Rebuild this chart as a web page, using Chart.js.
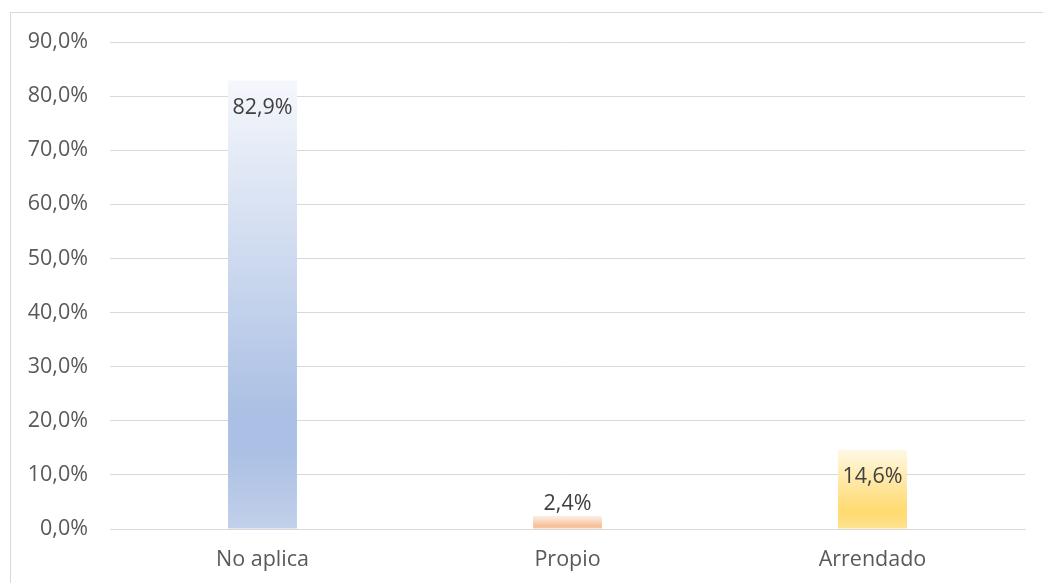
<!DOCTYPE html>
<html>
<head>
<meta charset="utf-8">
<script src="https://cdn.jsdelivr.net/npm/chart.js@4.4.1/dist/chart.umd.min.js"></script>
<style>
  html, body { margin: 0; padding: 0; background: #fff; }
  #wrap { width: 1043px; height: 583px; }
</style>
</head>
<body>
<div id="wrap"><canvas id="grafico" width="1043" height="583"></canvas></div>
<script>
const categorias = ['No aplica', 'Propio', 'Arrendado'];
const porcentajes = [82.9, 2.4, 14.6];
const ticksY = [0, 10, 20, 30, 40, 50, 60, 70, 80, 90];

// degradado de cada barra: claro arriba, mas intenso cerca de la base
const degradados = [
  ['#f5f7fc', '#abc0e4', '#abc0e4', '#c2d0ea'],
  ['#fdf0e7', '#f6c19b', '#f6c19b', '#f8cfb1'],
  ['#fff8e3', '#ffdb73', '#ffdb73', '#ffe394']
];

const fuente = "'Open Sans', 'Noto Sans', sans-serif";
const tam = 21.5;

function formato(v) {
  return v.toFixed(1).replace('.', ',') + '%';
}

function rellenoBarra(ctx) {
  const chart = ctx.chart;
  if (!chart.chartArea) return '#c2d0ea';
  const y = chart.scales.y;
  const arriba = y.getPixelForValue(porcentajes[ctx.dataIndex]);
  const abajo = y.getPixelForValue(0);
  const g = chart.ctx.createLinearGradient(0, arriba, 0, abajo);
  const c = degradados[ctx.dataIndex];
  g.addColorStop(0, c[0]);
  g.addColorStop(0.74, c[1]);
  g.addColorStop(0.83, c[2]);
  g.addColorStop(1, c[3]);
  return g;
}

// fondo blanco y marco gris del grafico
const marco = {
  id: 'marco',
  beforeDraw(chart) {
    const c = chart.ctx;
    c.save();
    c.fillStyle = '#fff';
    c.fillRect(0, 0, chart.width, chart.height);
    c.strokeStyle = '#d9d9d9';
    c.lineWidth = 1;
    c.strokeRect(10.5, 12.5, chart.width, chart.height);
    c.restore();
  }
};

// etiquetas de valor: dentro del extremo, o encima si la barra es corta
const etiquetas = {
  id: 'etiquetas',
  afterDatasetsDraw(chart) {
    const c = chart.ctx;
    const meta = chart.getDatasetMeta(0);
    c.save();
    c.font = tam + 'px ' + fuente;
    c.fillStyle = '#404040';
    c.textAlign = 'center';
    c.textBaseline = 'middle';
    meta.data.forEach((bar, i) => {
      const alto = bar.base - bar.y;
      const y = alto > 40 ? bar.y + 27 : bar.y - 12;
      c.fillText(formato(porcentajes[i]), bar.x, y);
    });
    c.restore();
  }
};

new Chart(document.getElementById('grafico'), {
  type: 'bar',
  data: {
    labels: categorias,
    datasets: [{
      data: porcentajes,
      backgroundColor: rellenoBarra,
      borderWidth: 0,
      categoryPercentage: 1,
      barPercentage: 0.226
    }]
  },
  options: {
    responsive: false,
    animation: false,
    layout: { padding: { left: 11, top: 42, right: 18, bottom: 0 } },
    plugins: {
      legend: { display: false },
      tooltip: { enabled: false }
    },
    scales: {
      x: {
        grid: { display: false, drawTicks: false },
        border: { display: true, color: '#d9d9d9', width: 1 },
        ticks: { color: '#595959', font: { family: fuente, size: tam }, padding: 18 },
        afterFit(s) { s.height = 54; }
      },
      y: {
        min: 0,
        max: 90,
        afterBuildTicks(s) { s.ticks = ticksY.map(v => ({ value: v })); },
        grid: { color: '#d9d9d9', drawTicks: false },
        border: { display: false },
        ticks: {
          color: '#595959',
          font: { family: fuente, size: tam },
          padding: 22,
          callback: v => formato(v)
        },
        afterFit(s) { s.width = 99; }
      }
    }
  },
  plugins: [marco, etiquetas]
});
</script>
</body>
</html>
